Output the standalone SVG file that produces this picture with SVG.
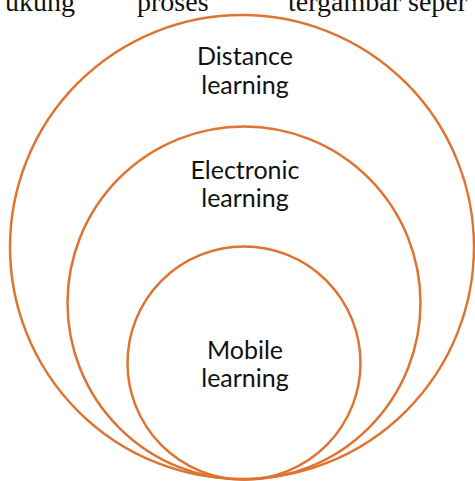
<svg xmlns="http://www.w3.org/2000/svg" width="475" height="481" viewBox="0 0 475 481">
<style>
.ring{fill:none;stroke:#DD7431;stroke-width:2.5}
.lbl{font-family:Lato,"Open Sans","Liberation Sans",sans-serif;font-size:25px;fill:#111;text-anchor:middle}
.body{font-family:"Liberation Serif","Times New Roman",serif;font-size:28px;fill:#111}
</style>
<rect width="475" height="481" fill="#fff"/>
<g id="page-text">
<text class="body" x="75" y="11" text-anchor="end">ukung</text>
<text class="body" x="137" y="11">proses</text>
<text class="body" x="288" y="11">tergambar seper</text>
</g>
<g id="distance-learning">
<circle class="ring" cx="242" cy="247" r="232"/>
<text class="lbl" x="245" y="65">Distance</text>
<text class="lbl" x="245" y="94">learning</text>
</g>
<g id="electronic-learning">
<circle class="ring" cx="244" cy="303" r="176.5"/>
<text class="lbl" x="245" y="179">Electronic</text>
<text class="lbl" x="245" y="207">learning</text>
</g>
<g id="mobile-learning">
<circle class="ring" cx="244" cy="363" r="116.5"/>
<text class="lbl" x="245" y="359">Mobile</text>
<text class="lbl" x="245" y="387">learning</text>
</g>
<g id="connectors"></g>
</svg>
